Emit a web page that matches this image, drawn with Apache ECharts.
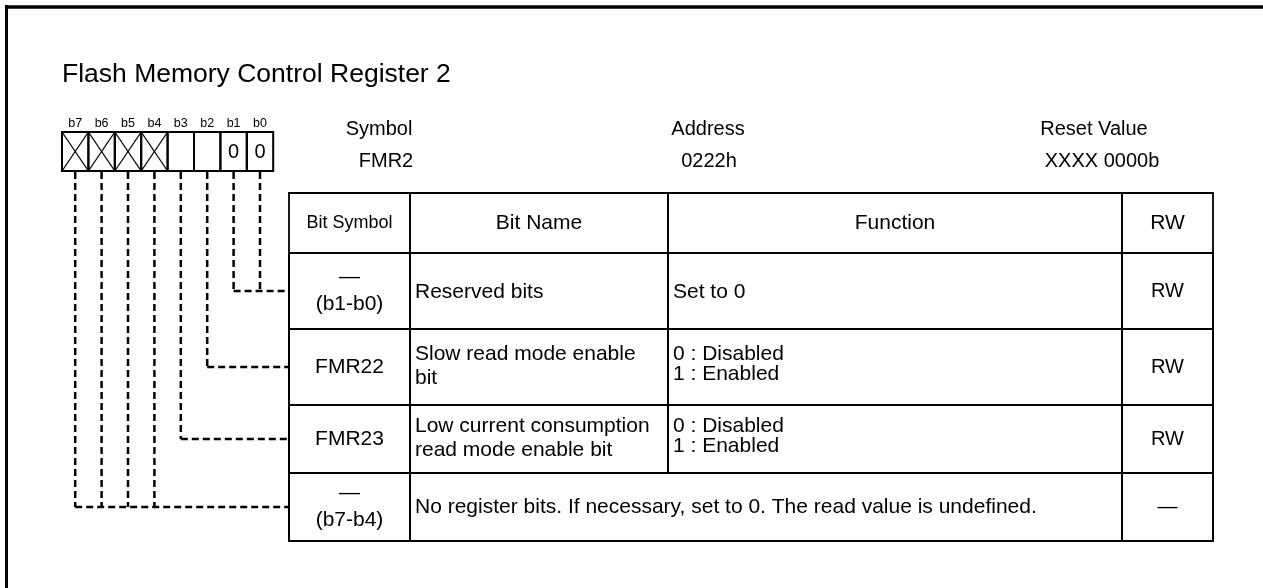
<!DOCTYPE html>
<html>
<head>
<meta charset="utf-8">
<script src="https://cdn.jsdelivr.net/npm/echarts@6/dist/echarts.min.js"></script>
<style>
html,body{margin:0;padding:0;background:#fff;}
#main{width:1263px;height:588px;}
</style>
</head>
<body>
<div id="main"></div>
<script>
// ---------- data ----------
const title = 'Flash Memory Control Register 2';
const bitLabels = ['b7', 'b6', 'b5', 'b4', 'b3', 'b2', 'b1', 'b0'];
const bitCells = ['X', 'X', 'X', 'X', '', '', '0', '0']; // X = no register bit
const infoLabels = ['Symbol', 'Address', 'Reset Value'];
const infoValues = ['FMR2', '0222h', 'XXXX 0000b'];
const columnHeads = ['Bit Symbol', 'Bit Name', 'Function', 'RW'];
const bitSymbols = ['—\n(b1-b0)', 'FMR22', 'FMR23', '—\n(b7-b4)'];
const bitNames = ['Reserved bits', 'Slow read mode enable\nbit', 'Low current consumption\nread mode enable bit', null];
const functions = ['Set to 0', '0 : Disabled\n1 : Enabled', '0 : Disabled\n1 : Enabled', 'No register bits. If necessary, set to 0. The read value is undefined.'];
const rwValues = ['RW', 'RW', 'RW', '—'];
const rowBits = [['b1', 'b0'], ['b2'], ['b3'], ['b7', 'b6', 'b5', 'b4']];

// ---------- layout ----------
const FONT = 'Liberation Sans, Arial, Helvetica, sans-serif';
const W = 1263, H = 588;
const box = { left: 62, top: 132, cellW: 26.4, h: 39 };
const colEdges = [289, 410, 668, 1122, 1213];
const rowEdges = [193, 253, 329, 405, 473, 541];
const infoX = [[379, 386], [708, 709], [1094, 1102]];
const TS = 21; // table text size

function cellCx(i) { return box.left + box.cellW * (i + 0.5); }

const chart = echarts.init(document.getElementById('main'), null, { renderer: 'canvas' });

function txt(api, x, y, text, size, align, extra) {
  const p = api.coord([x, y]);
  return {
    type: 'text',
    style: Object.assign({
      x: p[0], y: p[1], text: text, fill: '#000',
      font: size + 'px ' + FONT,
      align: align || 'center', verticalAlign: 'middle'
    }, extra || {})
  };
}
function seg(api, x1, y1, x2, y2, lw, dash) {
  const a = api.coord([x1, y1]), b = api.coord([x2, y2]);
  return {
    type: 'line',
    shape: { x1: a[0], y1: a[1], x2: b[0], y2: b[1] },
    style: { stroke: '#000', lineWidth: lw, lineDash: dash || null }
  };
}
function rect(api, x0, y0, x1, y1, lw) {
  const a = api.coord([x0, y0]), b = api.coord([x1, y1]);
  return { type: 'rect', shape: { x: a[0], y: a[1], width: b[0] - a[0], height: b[1] - a[1] },
    style: { fill: 'none', stroke: '#000', lineWidth: lw } };
}

const series = [];

// frame + title
series.push({
  type: 'custom', clip: false, silent: true,
  data: [[0]],
  renderItem: function (params, api) {
    return {
      type: 'group', children: [
        seg(api, 6.5, 5, 6.5, H + 5, 3),
        seg(api, 5, 7, W + 5, 7, 3.5),
        txt(api, 62, 75, title, 26.5, 'left')
      ]
    };
  }
});

// bit labels + register cells
series.push({
  type: 'custom', clip: false, silent: true,
  data: bitLabels.map((l, i) => [i]),
  renderItem: function (params, api) {
    const i = params.dataIndex;
    const x0 = box.left + box.cellW * i, x1 = x0 + box.cellW;
    const y0 = box.top, y1 = box.top + box.h;
    const ch = [
      rect(api, x0, y0, x1, y1, 2),
      txt(api, cellCx(i), 124, bitLabels[i], 12.5)
    ];
    if (bitCells[i] === 'X') {
      ch.push(seg(api, x0, y0, x1, y1, 1.3));
      ch.push(seg(api, x1, y0, x0, y1, 1.3));
    } else if (bitCells[i]) {
      ch.push(txt(api, cellCx(i), (y0 + y1) / 2 + 1, bitCells[i], 20));
    }
    return { type: 'group', children: ch };
  }
});

// dashed connectors
series.push({
  type: 'custom', clip: false, silent: true,
  data: rowBits.map((r, i) => [i]),
  renderItem: function (params, api) {
    const r = params.dataIndex;
    const ym = (rowEdges[r + 1] + rowEdges[r + 2]) / 2;
    const xs = rowBits[r].map(b => cellCx(bitLabels.indexOf(b)));
    const ch = xs.map(x => seg(api, x, box.top + box.h + 1, x, ym, 2.5, [7, 4]));
    ch.push(seg(api, Math.min.apply(null, xs), ym, colEdges[0], ym, 2.5, [7, 4]));
    return { type: 'group', children: ch };
  }
});

// register info
series.push({
  type: 'custom', clip: false, silent: true,
  data: infoLabels.map((l, i) => [i]),
  renderItem: function (params, api) {
    const i = params.dataIndex;
    return {
      type: 'group', children: [
        txt(api, infoX[i][0], 129, infoLabels[i], 20),
        txt(api, infoX[i][1], 161, infoValues[i], 20)
      ]
    };
  }
});

// table header
series.push({
  type: 'custom', clip: false, silent: true,
  data: columnHeads.map((c, i) => [i]),
  renderItem: function (params, api) {
    const i = params.dataIndex;
    const x0 = colEdges[i], x1 = colEdges[i + 1], y0 = rowEdges[0], y1 = rowEdges[1];
    return {
      type: 'group', children: [
        rect(api, x0, y0, x1, y1, 1.8),
        txt(api, (x0 + x1) / 2, (y0 + y1) / 2, columnHeads[i], i === 0 ? 18 : TS)
      ]
    };
  }
});

// table body
series.push({
  type: 'custom', clip: false, silent: true,
  data: bitSymbols.map((s, i) => [i]),
  renderItem: function (params, api) {
    const r = params.dataIndex;
    const y0 = rowEdges[r + 1], y1 = rowEdges[r + 2], ym = (y0 + y1) / 2;
    const ch = [];
    const merged = bitNames[r] === null;
    const cells = merged ? [[0, 1], [1, 3], [3, 4]] : [[0, 1], [1, 2], [2, 3], [3, 4]];
    cells.forEach(c => ch.push(rect(api, colEdges[c[0]], y0, colEdges[c[1]], y1, 2)));
    const sym = bitSymbols[r];
    const cx = (colEdges[0] + colEdges[1]) / 2;
    if (sym.indexOf('\n') >= 0) {
      const parts = sym.split('\n');
      ch.push(txt(api, cx, ym - 13.5, parts[0], TS));
      ch.push(txt(api, cx, ym + 13, parts[1], TS));
    } else {
      ch.push(txt(api, cx, ym, sym, TS));
    }
    if (!merged) {
      const nMulti = bitNames[r].indexOf('\n') >= 0;
      const fMulti = functions[r].indexOf('\n') >= 0;
      ch.push(txt(api, colEdges[1] + 5, nMulti ? ym - 1 : ym + 1, bitNames[r], TS, 'left', { lineHeight: 24 }));
      ch.push(txt(api, colEdges[2] + 5, fMulti ? ym - 2.5 : ym + 1, functions[r], TS, 'left', { lineHeight: 20 }));
    } else {
      ch.push(txt(api, colEdges[1] + 5, ym, functions[r], TS, 'left'));
    }
    ch.push(txt(api, (colEdges[3] + colEdges[4]) / 2, ym, rwValues[r], 20));
    return { type: 'group', children: ch };
  }
});

chart.setOption({
  animation: false,
  backgroundColor: '#fff',
  grid: { left: 0, right: 0, top: 0, bottom: 0 },
  xAxis: { type: 'value', min: 0, max: W, show: false },
  yAxis: { type: 'value', min: 0, max: H, inverse: true, show: false },
  series: series
});
</script>
</body>
</html>
